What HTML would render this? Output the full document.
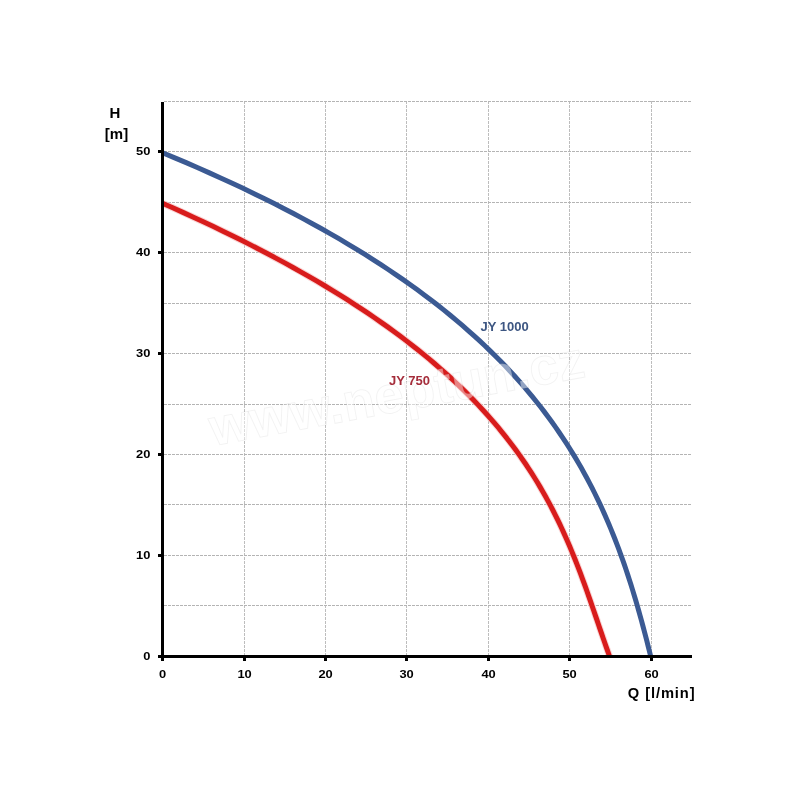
<!DOCTYPE html>
<html><head><meta charset="utf-8"><style>
html,body{margin:0;padding:0;background:#fff;}
svg{display:block;will-change:transform;}
text{font-family:"Liberation Sans",sans-serif;font-weight:bold;}
</style></head><body>
<svg width="800" height="800" viewBox="0 0 800 800">
<rect width="800" height="800" fill="#fff"/>
<g stroke="#bdbdbd" stroke-width="1" stroke-dasharray="3,1" fill="none"><line x1="244.5" y1="101" x2="244.5" y2="655"/><line x1="325.5" y1="101" x2="325.5" y2="655"/><line x1="406.5" y1="101" x2="406.5" y2="655"/><line x1="488.5" y1="101" x2="488.5" y2="655"/><line x1="569.5" y1="101" x2="569.5" y2="655"/><line x1="651.5" y1="101" x2="651.5" y2="655"/></g><g stroke="#b4b4b4" stroke-width="1" stroke-dasharray="3,1" fill="none"><line x1="164" y1="605.5" x2="692" y2="605.5"/><line x1="164" y1="555.5" x2="692" y2="555.5"/><line x1="164" y1="504.5" x2="692" y2="504.5"/><line x1="164" y1="454.5" x2="692" y2="454.5"/><line x1="164" y1="404.5" x2="692" y2="404.5"/><line x1="164" y1="353.5" x2="692" y2="353.5"/><line x1="164" y1="303.5" x2="692" y2="303.5"/><line x1="164" y1="252.5" x2="692" y2="252.5"/><line x1="164" y1="202.5" x2="692" y2="202.5"/><line x1="164" y1="151.5" x2="692" y2="151.5"/><line x1="164" y1="101.5" x2="692" y2="101.5"/></g>
<path d="M162.00,152.50 L174.20,157.59 L186.15,162.67 L197.88,167.76 L209.38,172.84 L220.65,177.93 L231.69,183.02 L242.52,188.10 L253.13,193.19 L263.52,198.27 L273.71,203.36 L283.68,208.44 L293.46,213.53 L303.02,218.62 L312.39,223.70 L321.57,228.79 L330.55,233.87 L339.34,238.96 L347.94,244.05 L356.36,249.13 L364.59,254.22 L372.65,259.30 L380.53,264.39 L388.24,269.47 L395.77,274.56 L403.14,279.65 L410.35,284.73 L417.39,289.82 L424.27,294.90 L430.99,299.99 L437.56,305.08 L443.98,310.16 L450.25,315.25 L456.38,320.33 L462.35,325.42 L468.19,330.51 L473.89,335.59 L479.45,340.68 L484.88,345.76 L490.18,350.85 L495.35,355.93 L500.39,361.02 L505.31,366.11 L510.11,371.19 L514.79,376.28 L519.35,381.36 L523.79,386.45 L528.13,391.54 L532.35,396.62 L536.47,401.71 L540.48,406.79 L544.39,411.88 L548.20,416.96 L551.91,422.05 L555.53,427.14 L559.05,432.22 L562.48,437.31 L565.82,442.39 L569.07,447.48 L572.23,452.57 L575.31,457.65 L578.31,462.74 L581.24,467.82 L584.08,472.91 L586.85,477.99 L589.54,483.08 L592.17,488.17 L594.72,493.25 L597.21,498.34 L599.63,503.42 L601.99,508.51 L604.29,513.60 L606.53,518.68 L608.70,523.77 L610.83,528.85 L612.90,533.94 L614.91,539.03 L616.88,544.11 L618.79,549.20 L620.66,554.28 L622.49,559.37 L624.27,564.45 L626.00,569.54 L627.70,574.63 L629.36,579.71 L630.98,584.80 L632.56,589.88 L634.11,594.97 L635.63,600.06 L637.12,605.14 L638.57,610.23 L640.00,615.31 L641.41,620.40 L642.78,625.48 L644.14,630.57 L645.47,635.66 L646.78,640.74 L648.07,645.83 L649.34,650.91 L650.60,656.00" fill="none" stroke="#3b5a93" stroke-width="5" stroke-linejoin="round"/>
<path d="M163.00,203.50 L173.31,208.07 L183.46,212.64 L193.45,217.21 L203.28,221.78 L212.95,226.35 L222.46,230.92 L231.82,235.49 L241.02,240.07 L250.07,244.64 L258.96,249.21 L267.70,253.78 L276.28,258.35 L284.72,262.92 L293.01,267.49 L301.15,272.06 L309.14,276.63 L316.98,281.20 L324.68,285.77 L332.23,290.34 L339.64,294.91 L346.91,299.48 L354.03,304.06 L361.02,308.63 L367.87,313.20 L374.58,317.77 L381.16,322.34 L387.60,326.91 L393.90,331.48 L400.08,336.05 L406.12,340.62 L412.04,345.19 L417.83,349.76 L423.49,354.33 L429.03,358.90 L434.44,363.47 L439.73,368.05 L444.90,372.62 L449.96,377.19 L454.89,381.76 L459.71,386.33 L464.42,390.90 L469.01,395.47 L473.50,400.04 L477.87,404.61 L482.14,409.18 L486.30,413.75 L490.36,418.32 L494.32,422.89 L498.17,427.46 L501.93,432.04 L505.59,436.61 L509.16,441.18 L512.63,445.75 L516.01,450.32 L519.31,454.89 L522.51,459.46 L525.64,464.03 L528.67,468.60 L531.63,473.17 L534.51,477.74 L537.31,482.31 L540.04,486.88 L542.69,491.45 L545.28,496.03 L547.79,500.60 L550.24,505.17 L552.63,509.74 L554.95,514.31 L557.22,518.88 L559.42,523.45 L561.57,528.02 L563.67,532.59 L565.72,537.16 L567.72,541.73 L569.67,546.30 L571.58,550.87 L573.45,555.44 L575.29,560.02 L577.08,564.59 L578.84,569.16 L580.57,573.73 L582.28,578.30 L583.95,582.87 L585.61,587.44 L587.24,592.01 L588.85,596.58 L590.45,601.15 L592.03,605.72 L593.61,610.29 L595.18,614.86 L596.74,619.43 L598.30,624.01 L599.86,628.58 L601.43,633.15 L603.00,637.72 L604.58,642.29 L606.17,646.86 L607.78,651.43 L609.40,656.00" fill="none" stroke="#f7c4c4" stroke-width="7" stroke-opacity="0.7"/>
<path d="M163.00,203.50 L173.31,208.07 L183.46,212.64 L193.45,217.21 L203.28,221.78 L212.95,226.35 L222.46,230.92 L231.82,235.49 L241.02,240.07 L250.07,244.64 L258.96,249.21 L267.70,253.78 L276.28,258.35 L284.72,262.92 L293.01,267.49 L301.15,272.06 L309.14,276.63 L316.98,281.20 L324.68,285.77 L332.23,290.34 L339.64,294.91 L346.91,299.48 L354.03,304.06 L361.02,308.63 L367.87,313.20 L374.58,317.77 L381.16,322.34 L387.60,326.91 L393.90,331.48 L400.08,336.05 L406.12,340.62 L412.04,345.19 L417.83,349.76 L423.49,354.33 L429.03,358.90 L434.44,363.47 L439.73,368.05 L444.90,372.62 L449.96,377.19 L454.89,381.76 L459.71,386.33 L464.42,390.90 L469.01,395.47 L473.50,400.04 L477.87,404.61 L482.14,409.18 L486.30,413.75 L490.36,418.32 L494.32,422.89 L498.17,427.46 L501.93,432.04 L505.59,436.61 L509.16,441.18 L512.63,445.75 L516.01,450.32 L519.31,454.89 L522.51,459.46 L525.64,464.03 L528.67,468.60 L531.63,473.17 L534.51,477.74 L537.31,482.31 L540.04,486.88 L542.69,491.45 L545.28,496.03 L547.79,500.60 L550.24,505.17 L552.63,509.74 L554.95,514.31 L557.22,518.88 L559.42,523.45 L561.57,528.02 L563.67,532.59 L565.72,537.16 L567.72,541.73 L569.67,546.30 L571.58,550.87 L573.45,555.44 L575.29,560.02 L577.08,564.59 L578.84,569.16 L580.57,573.73 L582.28,578.30 L583.95,582.87 L585.61,587.44 L587.24,592.01 L588.85,596.58 L590.45,601.15 L592.03,605.72 L593.61,610.29 L595.18,614.86 L596.74,619.43 L598.30,624.01 L599.86,628.58 L601.43,633.15 L603.00,637.72 L604.58,642.29 L606.17,646.86 L607.78,651.43 L609.40,656.00" fill="none" stroke="#d81c1c" stroke-width="5" stroke-linejoin="round"/>
<text transform="translate(213,446) rotate(-10.5)" font-size="52.5" fill="#fff" fill-opacity="0.45" stroke="#000" stroke-opacity="0.05" stroke-width="1">www.neptun.cz</text>
<g fill="#000">
<rect x="161" y="102" width="3" height="556"/>
<rect x="161" y="655" width="531" height="3"/>
<rect x="158" y="655" width="4" height="3"/><rect x="158" y="554" width="4" height="3"/><rect x="158" y="453" width="4" height="3"/><rect x="158" y="352" width="4" height="3"/><rect x="158" y="251" width="4" height="3"/><rect x="158" y="150" width="4" height="3"/><rect x="161" y="657" width="3" height="4"/><rect x="243" y="657" width="3" height="4"/><rect x="324" y="657" width="3" height="4"/><rect x="405" y="657" width="3" height="4"/><rect x="487" y="657" width="3" height="4"/><rect x="568" y="657" width="3" height="4"/><rect x="650" y="657" width="3" height="4"/>
</g>
<g font-size="11.5" fill="#000"><text transform="translate(150.3,659.9) scale(1.12,1)" text-anchor="end">0</text><text transform="translate(150.3,558.9) scale(1.12,1)" text-anchor="end">10</text><text transform="translate(150.3,457.9) scale(1.12,1)" text-anchor="end">20</text><text transform="translate(150.3,356.9) scale(1.12,1)" text-anchor="end">30</text><text transform="translate(150.3,255.9) scale(1.12,1)" text-anchor="end">40</text><text transform="translate(150.3,154.9) scale(1.12,1)" text-anchor="end">50</text><text transform="translate(162.6,678.3) scale(1.12,1)" text-anchor="middle">0</text><text transform="translate(244.6,678.3) scale(1.12,1)" text-anchor="middle">10</text><text transform="translate(325.6,678.3) scale(1.12,1)" text-anchor="middle">20</text><text transform="translate(406.6,678.3) scale(1.12,1)" text-anchor="middle">30</text><text transform="translate(488.6,678.3) scale(1.12,1)" text-anchor="middle">40</text><text transform="translate(569.6,678.3) scale(1.12,1)" text-anchor="middle">50</text><text transform="translate(651.6,678.3) scale(1.12,1)" text-anchor="middle">60</text></g>
<text x="115" y="118" font-size="15" text-anchor="middle" fill="#000">H</text>
<text x="116.5" y="138.7" font-size="15" text-anchor="middle" fill="#000">[m]</text>
<text x="695.5" y="698" font-size="14.7" text-anchor="end" letter-spacing="0.9" fill="#000">Q [l/min]</text>
<text x="480.5" y="331" font-size="13" fill="#3d5682">JY 1000</text>
<text x="389" y="384.6" font-size="13" fill="#a52d3b">JY 750</text>
</svg>
</body></html>
